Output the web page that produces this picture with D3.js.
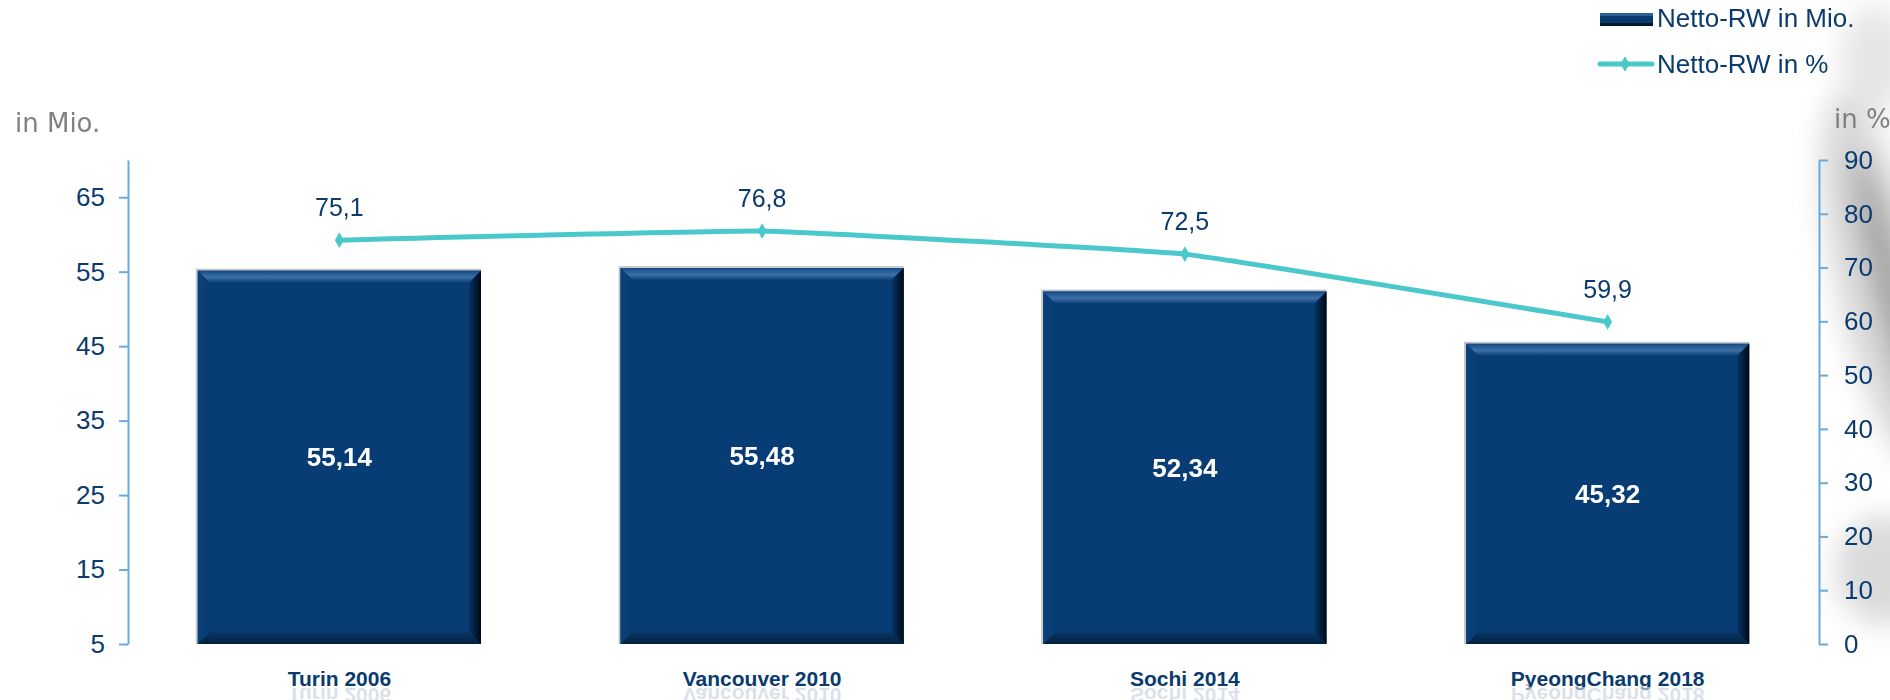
<!DOCTYPE html>
<html>
<head>
<meta charset="utf-8">
<script src="https://cdn.jsdelivr.net/npm/d3@7"></script>
<style>
  body { margin: 0; background: #fff; }
  svg { display: block; font-family: "Liberation Sans", Arial, sans-serif; }
</style>
</head>
<body>
<div id="chart"></div>
<script>
let width = 1890,
  height = 700;

// data
const categories = ["Turin 2006", "Vancouver 2010", "Sochi 2014", "PyeongChang 2018"];
const nettoMio = [55.14, 55.48, 52.34, 45.32];
const nettoPct = [75.1, 76.8, 72.5, 59.9];
const leftTicks = [5, 15, 25, 35, 45, 55, 65];
const rightTicks = [0, 10, 20, 30, 40, 50, 60, 70, 80, 90];

const navy = "#0b3b6e";
const barFill = "#083c74";
const axisColor = "#6aa9dc";
const lineColor = "#4bc8cc";

const fmt = v => String(v).replace(".", ",");

let svg = d3.select("#chart")
  .append("svg")
  .attr("width", width)
  .attr("height", height);

let defs = svg.append("defs");

// blurred backdrop on the right side
defs.append("filter").attr("id", "blur").attr("x", "-50%").attr("y", "-50%").attr("width", "200%").attr("height", "200%")
  .append("feGaussianBlur").attr("stdDeviation", 14);

let topGrad = defs.append("linearGradient").attr("id", "bevTop").attr("x1", 0).attr("y1", 0).attr("x2", 0).attr("y2", 1);
topGrad.append("stop").attr("offset", "0%").attr("stop-color", "#164a83");
topGrad.append("stop").attr("offset", "55%").attr("stop-color", "#3d70a8");
topGrad.append("stop").attr("offset", "100%").attr("stop-color", "#0b3f77");

let rightGrad = defs.append("linearGradient").attr("id", "bevRight").attr("x1", 0).attr("y1", 0).attr("x2", 1).attr("y2", 0);
rightGrad.append("stop").attr("offset", "0%").attr("stop-color", "#073466");
rightGrad.append("stop").attr("offset", "100%").attr("stop-color", "#000a14");

let botGrad = defs.append("linearGradient").attr("id", "bevBot").attr("x1", 0).attr("y1", 0).attr("x2", 0).attr("y2", 1);
botGrad.append("stop").attr("offset", "0%").attr("stop-color", "#083766");
botGrad.append("stop").attr("offset", "100%").attr("stop-color", "#03203f");

let leftGrad = defs.append("linearGradient").attr("id", "bevLeft").attr("x1", 0).attr("y1", 0).attr("x2", 1).attr("y2", 0);
leftGrad.append("stop").attr("offset", "0%").attr("stop-color", "#0c4279");
leftGrad.append("stop").attr("offset", "100%").attr("stop-color", "#083c74");

let bg = svg.append("g").attr("filter", "url(#blur)");
bg.append("ellipse").attr("cx", 1875).attr("cy", 60).attr("rx", 35).attr("ry", 55).attr("fill", "#dcdcdc").attr("opacity", 0.7);
bg.append("ellipse").attr("cx", 1880).attr("cy", 280).attr("rx", 45).attr("ry", 190)
  .attr("transform", "rotate(-12 1880 280)").attr("fill", "#cfcfcf").attr("opacity", 0.8);
bg.append("ellipse").attr("cx", 1895).attr("cy", 300).attr("rx", 18).attr("ry", 150)
  .attr("transform", "rotate(-15 1895 300)").attr("fill", "#8a8a8a").attr("opacity", 0.7);
bg.append("ellipse").attr("cx", 1885).attr("cy", 570).attr("rx", 50).attr("ry", 55).attr("fill", "#c2c2c2").attr("opacity", 0.6);

// scales
let x = d3.scaleBand()
  .domain(categories)
  .range([128, 1819])
  .paddingInner(0.33)
  .paddingOuter(0.165);

let yLeft = d3.scaleLinear().domain([5, 70]).range([644, 160]);
let yRight = d3.scaleLinear().domain([0, 90]).range([644, 160]);

// axes
let axL = svg.append("g")
  .attr("transform", "translate(128,0)")
  .call(d3.axisLeft(yLeft).tickValues(leftTicks).tickSize(9).tickSizeOuter(0).tickPadding(14));

let axR = svg.append("g")
  .attr("transform", "translate(1819,0)")
  .call(d3.axisRight(yRight).tickValues(rightTicks).tickSize(9).tickSizeOuter(0).tickPadding(16));

[axL, axR].forEach(ax => {
  ax.select(".domain").attr("stroke", axisColor).attr("stroke-width", 2);
  ax.selectAll(".tick line").attr("stroke", axisColor).attr("stroke-width", 2);
  ax.selectAll(".tick text")
    .attr("fill", navy)
    .style("font-size", "26px")
    .style("font-family", "Liberation Sans, Arial, sans-serif");
});

svg.append("text").attr("x", 15).attr("y", 132)
  .attr("fill", "#808080").style("font-size", "26px").style("font-family", "DejaVu Sans, sans-serif").text("in Mio.");
svg.append("text").attr("x", 1834).attr("y", 128)
  .attr("fill", "#808080").style("font-size", "26px").style("font-family", "DejaVu Sans, sans-serif").text("in %");

// bars with bevel
const bev = 12;
let bars = svg.append("g").selectAll("g.bar")
  .data(categories.map((c, i) => ({ cat: c, val: nettoMio[i] })))
  .join("g")
  .attr("class", "bar");

bars.each(function (d) {
  let g = d3.select(this);
  let x0 = x(d.cat), x1 = x0 + x.bandwidth();
  let y0 = yLeft(d.val), y1 = yLeft(5);
  g.append("rect").attr("x", x0 - 2).attr("y", y0 - 2).attr("width", x1 - x0 + 2).attr("height", y1 - y0 + 2)
    .attr("fill", "#c4c8cc");
  g.append("rect").attr("x", x0).attr("y", y0).attr("width", x1 - x0).attr("height", y1 - y0).attr("fill", barFill);
  g.append("polygon").attr("fill", "url(#bevTop)")
    .attr("points", [[x0, y0], [x1, y0], [x1 - bev, y0 + bev], [x0 + bev, y0 + bev]].join(" "));
  g.append("polygon").attr("fill", "url(#bevRight)")
    .attr("points", [[x1, y0], [x1, y1], [x1 - bev, y1 - bev], [x1 - bev, y0 + bev]].join(" "));
  g.append("polygon").attr("fill", "url(#bevBot)")
    .attr("points", [[x0, y1], [x1, y1], [x1 - bev, y1 - bev], [x0 + bev, y1 - bev]].join(" "));
  g.append("polygon").attr("fill", "url(#bevLeft)")
    .attr("points", [[x0, y0], [x0 + bev, y0 + bev], [x0 + bev, y1 - bev], [x0, y1]].join(" "));
  g.append("text")
    .attr("x", (x0 + x1) / 2).attr("y", (y0 + y1) / 2 + 9)
    .attr("text-anchor", "middle")
    .attr("fill", "#fff").style("font-size", "26px").style("font-weight", "bold")
    .text(fmt(d.val));
});

// category labels, with a faint mirror image below
let cats = svg.append("g").selectAll("g.cat")
  .data(categories)
  .join("g")
  .attr("class", "cat")
  .attr("transform", d => `translate(${x(d) + x.bandwidth() / 2},686)`);

cats.append("text")
  .attr("id", (d, i) => "cat" + i)
  .attr("text-anchor", "middle")
  .attr("fill", navy).style("font-size", "21px").style("font-weight", "bold")
  .text(d => d);

cats.append("use")
  .attr("href", (d, i) => "#cat" + i)
  .attr("transform", "translate(0,2) scale(1,-1)")
  .attr("opacity", 0.3);

cats.append("rect").attr("x", -120).attr("y", 1).attr("width", 240).attr("height", 16)
  .attr("fill", "#fff").attr("opacity", 0.5);

// line series
let pts = categories.map((c, i) => ({ cat: c, val: nettoPct[i] }));

svg.append("path")
  .datum(pts)
  .attr("fill", "none")
  .attr("stroke", lineColor)
  .attr("stroke-width", 5)
  .attr("stroke-linecap", "round")
  .attr("d", d3.line()
    .x(d => x(d.cat) + x.bandwidth() / 2)
    .y(d => yRight(d.val))
    .curve(d3.curveCardinal.tension(0.75)));

svg.append("g").selectAll("path")
  .data(pts)
  .join("path")
  .attr("d", d3.symbol(d3.symbolDiamond, 70))
  .attr("transform", d => `translate(${x(d.cat) + x.bandwidth() / 2},${yRight(d.val)})`)
  .attr("fill", lineColor);

svg.append("g").selectAll("text")
  .data(pts)
  .join("text")
  .attr("x", d => x(d.cat) + x.bandwidth() / 2)
  .attr("y", d => yRight(d.val) - 24)
  .attr("text-anchor", "middle")
  .attr("fill", navy).style("font-size", "25px")
  .text(d => fmt(d.val));

// legend
let lg = svg.append("g");
lg.append("rect").attr("x", 1600).attr("y", 13).attr("width", 53).attr("height", 13).attr("fill", "#0a3a6d");
lg.append("rect").attr("x", 1600).attr("y", 13).attr("width", 53).attr("height", 3).attr("fill", "#2d5f97");
lg.append("rect").attr("x", 1600).attr("y", 23).attr("width", 53).attr("height", 3).attr("fill", "#03182e");
lg.append("text").attr("x", 1657).attr("y", 27).attr("fill", navy).style("font-size", "26px").text("Netto-RW in Mio.");

lg.append("line").attr("x1", 1600).attr("x2", 1652).attr("y1", 64).attr("y2", 64)
  .attr("stroke", lineColor).attr("stroke-width", 5).attr("stroke-linecap", "round");
lg.append("path").attr("d", d3.symbol(d3.symbolDiamond, 70)).attr("transform", "translate(1625,64)").attr("fill", lineColor);
lg.append("text").attr("x", 1657).attr("y", 73).attr("fill", navy).style("font-size", "26px").text("Netto-RW in %");
</script>
</body>
</html>
